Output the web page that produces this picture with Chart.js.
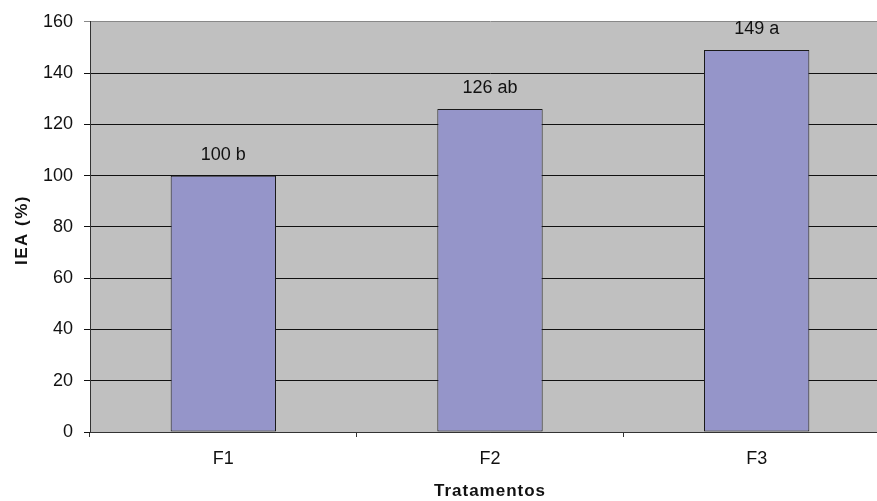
<!DOCTYPE html>
<html>
<head>
<meta charset="utf-8">
<script src="https://cdn.jsdelivr.net/npm/chart.js@4"></script>
<style>
  html, body { margin: 0; padding: 0; background: #fff; overflow: hidden; }
</style>
</head>
<body>
<canvas id="chart" width="890" height="501"></canvas>
<script>
// data
const categories = ["F1", "F2", "F3"];
const values = [100, 126, 149];
const barLabels = ["100 b", "126 ab", "149 a"];
const yTicks = [0, 20, 40, 60, 80, 100, 120, 140, 160];
const xTitle = "Tratamentos";
const yTitle = "IEA (%)";

const font = "'Liberation Sans', Arial, sans-serif";

// gray plot background
const plotBg = {
  id: "plotBg",
  beforeDraw(chart) {
    const { ctx, chartArea: a } = chart;
    ctx.save();
    ctx.fillStyle = "#C0C0C0";
    ctx.fillRect(a.left, a.top, a.right - a.left, a.bottom - a.top);
    ctx.restore();
  }
};

// the "100 b" style labels above each bar, plus the axis titles (letter spaced)
const extraText = {
  id: "extraText",
  afterDatasetsDraw(chart) {
    const ctx = chart.ctx;
    const a = chart.chartArea;
    const bars = chart.getDatasetMeta(0).data;
    ctx.save();
    ctx.font = "18px " + font;
    ctx.fillStyle = "#111";
    ctx.textAlign = "center";
    ctx.textBaseline = "middle";
    bars.forEach((bar, i) => {
      ctx.fillText(barLabels[i], bar.x, bar.y - 21);
    });

    ctx.font = "bold 17px " + font;
    ctx.letterSpacing = "1px";
    ctx.fillText(xTitle, (a.left + a.right) / 2, 491);

    ctx.translate(22, 230);
    ctx.rotate(-Math.PI / 2);
    ctx.letterSpacing = "1.5px";
    ctx.fillText(yTitle, 0, 0);
    ctx.restore();
  }
};

new Chart(document.querySelector("#chart").getContext("2d"), {
  type: "bar",
  data: {
    labels: categories,
    datasets: [{
      data: values,
      backgroundColor: "#9595C9",
      borderColor: "#1a1a1a",
      borderWidth: 1,
      borderSkipped: false,
      barPercentage: 0.395,
      categoryPercentage: 1
    }]
  },
  options: {
    responsive: false,
    devicePixelRatio: 1,
    animation: false,
    layout: { padding: { top: 21, left: 0, right: 0, bottom: 0 } },
    plugins: {
      legend: { display: false },
      tooltip: { enabled: false }
    },
    scales: {
      x: {
        afterFit(scale) { scale.height = 69; },
        grid: {
          drawOnChartArea: false,
          drawTicks: true,
          tickLength: 5,
          color: "#333",
          offset: true
        },
        border: { color: "#333", width: 1 },
        ticks: {
          color: "#111",
          font: { family: font, size: 18 },
          padding: 11
        }
      },
      y: {
        min: 0,
        max: 160,
        afterFit(scale) { scale.width = 90; },
        afterBuildTicks(scale) { scale.ticks = yTicks.map(v => ({ value: v })); },
        grid: {
          color: ctx => (ctx.tick && ctx.tick.value === 160 ? "#888" : "#111"),
          tickLength: 6
        },
        border: { color: "#333", width: 1 },
        ticks: {
          color: "#111",
          font: { family: font, size: 18 },
          padding: 11
        }
      }
    }
  },
  plugins: [plotBg, extraText]
});
</script>
</body>
</html>
